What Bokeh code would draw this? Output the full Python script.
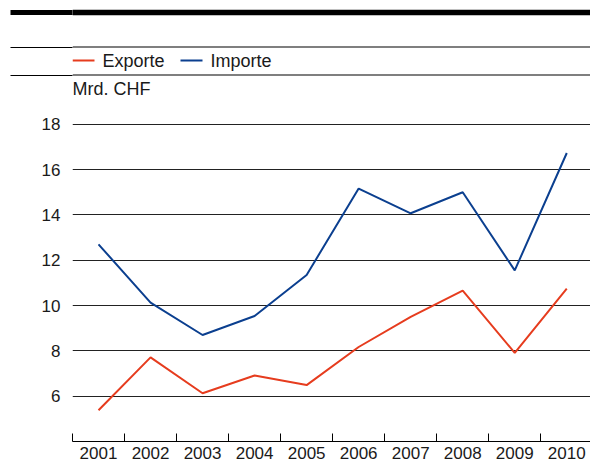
from bokeh.plotting import figure
from bokeh.models import Range1d, FixedTicker
from bokeh.layouts import column
from bokeh.embed import file_html
from bokeh.resources import INLINE
from bokeh.core.properties import value

# ---- data ----
years = ["2001", "2002", "2003", "2004", "2005", "2006", "2007", "2008", "2009", "2010"]
exporte = [5.38, 7.71, 6.13, 6.91, 6.49, 8.17, 9.50, 10.66, 7.91, 10.75]
importe = [12.70, 10.13, 8.70, 9.54, 11.35, 15.16, 14.07, 15.00, 11.55, 16.73]
y_ticks = [6, 8, 10, 12, 14, 16, 18]
series_names = ["Exporte", "Importe"]
series_colors = ["#e63c1e", "#0b3f8f"]
unit_label = "Mrd. CHF"

FONT = "Liberation Sans"
W = 590
HEAD_H = 100
LEFT = 72

# ---- header: rules, legend, unit (pixel-like coordinates) ----
header = figure(width=W, height=HEAD_H, x_range=Range1d(LEFT, W), y_range=Range1d(HEAD_H, 0),
                output_backend="svg", toolbar_location=None,
                min_border_left=LEFT, min_border_right=0, min_border_top=0, min_border_bottom=0,
                x_axis_location=None, outline_line_color=None)
header.grid.grid_line_color = None
# rule rows: thick bar (several rows) + two thin rules; left part drawn as axis ticks
bar_rows = [9.9, 10.9, 11.9, 12.9, 13.9, 14.1]
rule_rows = [46.5, 74.5]
all_rows = bar_rows + rule_rows
RULE_W = 1.2
header.yaxis.ticker = FixedTicker(ticks=all_rows, minor_ticks=[])
header.yaxis.major_label_overrides = {t: "" for t in all_rows}
header.yaxis.major_label_text_font_size = "0px"
header.yaxis.major_label_standoff = 0
header.yaxis.axis_line_color = None
header.yaxis.major_tick_in = 0
header.yaxis.major_tick_out = LEFT - 10
header.yaxis.major_tick_line_color = "black"
header.yaxis.major_tick_line_width = RULE_W
header.yaxis.minor_tick_line_color = None
# in-frame part of the same rows
header.segment(x0=[LEFT] * len(all_rows), y0=all_rows, x1=[W] * len(all_rows), y1=all_rows,
               line_color="black", line_width=RULE_W)
# legend
leg_x = [72, 180]
header.segment(x0=leg_x, y0=[60, 60], x1=[x + 22 for x in leg_x], y1=[60, 60],
               line_color=series_colors, line_width=2)
header.text(x=[x + 30 for x in leg_x], y=[60.4, 60.4], text=series_names,
            text_font=value(FONT), text_font_size="18px", text_color="#1a1a1a",
            text_baseline="alphabetic", text_align="left")
header.text(x=[72], y=[88.7], text=[unit_label], text_font=value(FONT), text_font_size="18px",
            text_color="#1a1a1a", text_baseline="alphabetic", text_align="left")

# ---- main chart ----
xs = list(range(1, len(years) + 1))
p = figure(width=W, height=465 - HEAD_H, x_range=Range1d(0.5, 10.456), y_range=Range1d(4, 18.87),
           output_backend="svg", toolbar_location=None,
           min_border_left=LEFT, min_border_right=0, min_border_top=4, min_border_bottom=24,
           outline_line_color=None)
for vals, col in zip([exporte, importe], series_colors):
    p.line(xs, vals, line_color=col, line_width=2)

p.xaxis.ticker = FixedTicker(ticks=xs, minor_ticks=[x - 0.5 for x in xs] + [len(xs) + 0.5])
p.xaxis.major_label_overrides = {x: y for x, y in zip(xs, years)}
p.xaxis.major_tick_in = 0
p.xaxis.major_tick_out = 0
p.xaxis.minor_tick_in = 8
p.xaxis.minor_tick_out = 0
p.xaxis.minor_tick_line_color = "black"
p.xaxis.axis_line_color = "black"
p.xaxis.major_label_standoff = 5
p.xaxis.major_label_text_font = FONT
p.xaxis.major_label_text_font_size = "17px"
p.xaxis.major_label_text_color = "#1a1a1a"

p.yaxis.ticker = FixedTicker(ticks=y_ticks)
p.yaxis.axis_line_color = None
p.yaxis.major_tick_line_color = None
p.yaxis.minor_tick_line_color = None
p.yaxis.major_label_standoff = 6
p.yaxis.major_label_text_font = FONT
p.yaxis.major_label_text_font_size = "17px"
p.yaxis.major_label_text_color = "#1a1a1a"

p.xgrid.grid_line_color = None
p.ygrid.ticker = FixedTicker(ticks=y_ticks)
p.ygrid.grid_line_color = "#222222"
p.ygrid.grid_line_width = 1

layout = column(header, p, spacing=0)
open("out.html", "w").write(file_html(layout, INLINE))
